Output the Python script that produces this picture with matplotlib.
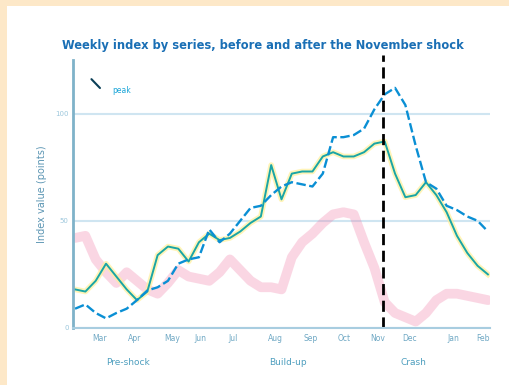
import matplotlib
matplotlib.use("Agg")
import matplotlib.pyplot as plt
from matplotlib.patches import Rectangle

# ---------------- DATA ----------------
weeks = list(range(41))

blue_vals = [9, 11, 7, 4.5, 7, 9, 13, 17.5, 19, 22, 30, 32, 33, 46, 40, 44, 50,
             56, 57, 62, 66, 68, 67, 66, 72, 89, 89, 90, 93, 102, 109, 112, 104,
             85, 68, 65, 57, 55, 52, 50, 45]

teal_vals = [18, 17, 22, 30, 24, 18, 13, 17, 34, 38, 37, 31, 40, 44, 41, 42, 45,
             49, 52, 76, 60, 72, 73, 73, 80, 82, 80, 80, 82, 86, 87, 72, 61,
             62, 68, 62, 54, 43, 35, 29, 25]

pink_vals = [42, 43, 32, 26, 21, 26, 22, 18, 16, 21, 27, 24, 23, 22, 26, 32, 27,
             22, 19, 19, 18, 33, 40, 44, 49, 53, 54, 53, 40, 28, 12, 7, 5,
             3, 7, 13, 16, 16, 15, 14, 13]

event_week = 29.8

tick_pos = [2.4, 5.8, 9.4, 12.1, 15.3, 19.4, 22.8, 26.1, 29.3, 32.4, 36.6, 39.5]
tick_labels = ["Mar", "Apr", "May", "Jun", "Jul", "Aug", "Sep", "Oct", "Nov",
               "Dec", "Jan", "Feb"]

group_pos = [5.1, 20.6, 32.8]
group_labels = ["Pre-shock", "Build-up", "Crash"]

y_ticks = [0, 50, 100]

# ---------------- PLOT ----------------
fig = plt.figure(figsize=(5.1, 3.85), dpi=100, facecolor="#fde8c8")
fig.patches.append(Rectangle((7 / 510, 0), 1, 1 - 6 / 385, transform=fig.transFigure,
                             facecolor="white", edgecolor="none", zorder=-10))

ax = fig.add_axes([73 / 510, 1 - 328 / 385, 417 / 510, 268 / 385])
ax.set_zorder(5)
ax.set_facecolor("none")

ax.plot(weeks, pink_vals, color="#f07aa5", lw=7, alpha=0.3, solid_capstyle="round")
ax.plot(weeks, teal_vals, color="#fff09a", lw=4, alpha=0.7)
ax.plot(weeks, teal_vals, color="#1aa5a5", lw=1.4)
ax.plot(weeks, blue_vals, color="#0a8fd4", lw=1.7, linestyle=(0, (4, 1.5)))

ax.axvline(event_week, color="black", lw=2, linestyle=(0, (4, 2)), ymax=1.02, clip_on=False)

ax.set_xlim(-0.2, 40.2)
ax.set_ylim(0, 125)
ax.set_yticks(y_ticks)
ax.set_yticklabels([str(v) for v in y_ticks], fontsize=5, color="#9cc7dc")
ax.tick_params(axis="y", length=0, pad=3)
ax.yaxis.grid(True, color="#cfe5f1", lw=1.5)

ax.set_xticks(tick_pos)
ax.set_xticklabels(tick_labels, fontsize=5.5, color="#6fa8c4")
ax.tick_params(axis="x", length=0, pad=4)

for pos, lab in zip(group_pos, group_labels):
    ax.text(pos, -16, lab, ha="center", va="center", fontsize=6.5, color="#4f9fbf")

for side in ["top", "right"]:
    ax.spines[side].set_visible(False)
ax.spines["left"].set_color("#7fb2c9")
ax.spines["left"].set_linewidth(2)
ax.spines["bottom"].set_color("#a8cde0")
ax.spines["bottom"].set_linewidth(1.5)

ax.set_ylabel("Index value (points)", fontsize=7, color="#5b95b3", labelpad=6)

ax.annotate("peak", xy=(2.6, 112), xytext=(3.6, 111), fontsize=5.5, color="#1aa5d8",
            va="center")
ax.annotate("", xy=(2.6, 111), xytext=(1.4, 117),
            arrowprops=dict(arrowstyle="-", color="#0b3f57", lw=1.5))

fig.text(263 / 510, 1 - 45 / 385,
         "Weekly index by series, before and after the November shock",
         ha="center", va="center", fontsize=8.3, fontweight="bold", color="#1a6fb5")

fig.savefig("out.png", dpi=100, facecolor=fig.get_facecolor())
